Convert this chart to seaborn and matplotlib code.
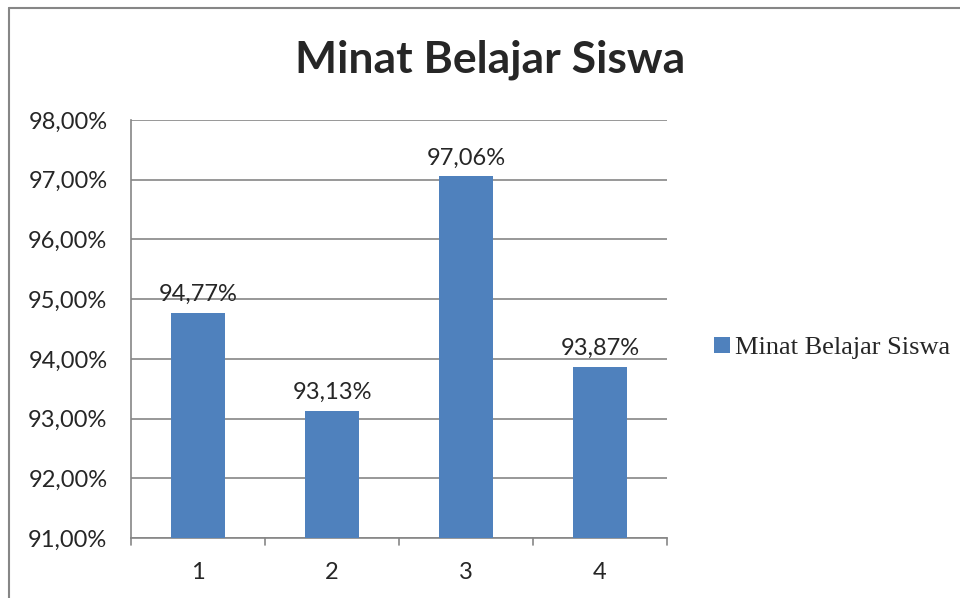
import matplotlib
matplotlib.use("Agg")
import matplotlib.pyplot as plt
import matplotlib.lines as mlines
import seaborn as sns
import pandas as pd

# data
kategori = ["1", "2", "3", "4"]
nilai = [94.77, 93.13, 97.06, 93.87]
seri = "Minat Belajar Siswa"

df = pd.DataFrame({"kategori": kategori, "nilai": nilai, "seri": seri})

sns.set_style("white")
plt.rcParams["font.family"] = ["Lato", "DejaVu Sans"]

fig = plt.figure(figsize=(9.6, 5.98), dpi=100)
ax = fig.add_axes([131/960, 60/598, 536/960, 418/598])

sns.barplot(data=df, x="kategori", y="nilai", hue="seri",
            palette=["#4F81BD"], width=0.4, ax=ax, zorder=3, saturation=1,
            linewidth=0)

ax.set_ylim(91, 98)
ax.set_xlim(-0.5, 3.5)
ax.set_yticks([91, 92, 93, 94, 95, 96, 97, 98])
ax.set_yticklabels([f"{v:.2f}%".replace(".", ",") for v in ax.get_yticks()], fontsize=17)
ax.set_xticks(range(4))
ax.set_xticklabels(kategori, fontsize=17)
ax.set_xlabel("")
ax.set_ylabel("")
ax.yaxis.grid(True, color="#868686", linewidth=1.2, zorder=0)
ax.set_axisbelow(True)

for s in ["top", "right"]:
    ax.spines[s].set_visible(False)
for s in ["left", "bottom"]:
    ax.spines[s].set_color("#868686")
    ax.spines[s].set_linewidth(1.2)

ax.tick_params(axis="y", length=6, width=1.2, color="#868686", pad=11)
ax.tick_params(axis="x", length=0, pad=17)
# category boundary ticks on the x axis
for b in [-0.5, 0.5, 1.5, 2.5, 3.5]:
    ax.plot([b, b], [0, -0.017], transform=ax.get_xaxis_transform(),
            color="#868686", lw=1.2, clip_on=False)

for i, v in enumerate(nilai):
    ax.text(i, v + 0.13, f"{v:.2f}%".replace(".", ","), ha="center",
            va="bottom", fontsize=17)

fig.text(490/960, 1 - 60/598, "Minat Belajar Siswa", ha="center", va="center",
         fontsize=32, fontweight="bold")

leg = ax.legend(loc="center left", bbox_to_anchor=(690/960, 1 - 348/598),
                bbox_transform=fig.transFigure, frameon=False,
                prop={"family": "Liberation Serif", "size": 19},
                handlelength=0.6, handleheight=0.6, handletextpad=0.2)

# outer chart border (top and left visible)
fig.add_artist(mlines.Line2D([9/960, 1], [1 - 8/598, 1 - 8/598],
                             transform=fig.transFigure, color="#868686", lw=1.5))
fig.add_artist(mlines.Line2D([9/960, 9/960], [0, 1 - 8/598],
                             transform=fig.transFigure, color="#868686", lw=1.5))

fig.savefig("out.png", dpi=100)
